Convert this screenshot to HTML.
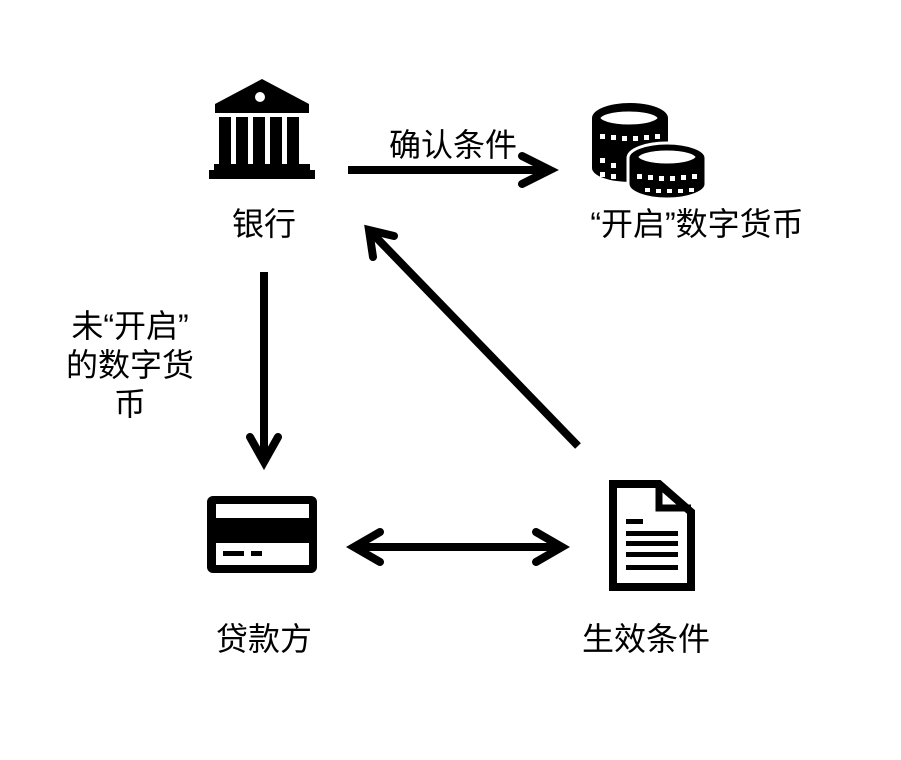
<!DOCTYPE html>
<html><head><meta charset="utf-8"><style>
html,body{margin:0;padding:0;background:#fff;width:901px;height:760px;overflow:hidden}
text{font-family:"Liberation Sans","Noto Sans CJK SC",sans-serif;font-size:32px;fill:#000}
</style></head><body>
<svg width="901" height="760" viewBox="0 0 901 760" xmlns="http://www.w3.org/2000/svg">
<!-- bank -->
<polygon points="215,104 262,79 309,104 309,113 215,113" fill="#000"/>
<circle cx="260" cy="97" r="5" fill="#fff"/>
<rect x="219" y="117" width="12" height="47" fill="#000"/>
<rect x="236" y="117" width="12" height="47" fill="#000"/>
<rect x="253" y="117" width="12" height="47" fill="#000"/>
<rect x="270" y="117" width="12" height="47" fill="#000"/>
<rect x="287" y="117" width="12" height="47" fill="#000"/>
<rect x="214" y="164" width="96" height="6" fill="#000"/>
<rect x="209" y="170" width="106" height="9" fill="#000"/>
<!-- coins back stack -->
<g fill="#000">
<ellipse cx="630" cy="168" rx="38" ry="14"/>
<rect x="592" y="118" width="76" height="50"/>
<ellipse cx="630" cy="118" rx="38" ry="15"/>
</g>
<ellipse cx="629" cy="118" rx="31" ry="9" fill="#fff" stroke="#000" stroke-width="5"/>
<g fill="#fff"><rect x="600" y="134" width="5" height="5"/><rect x="611" y="135" width="5" height="5"/><rect x="622" y="136" width="5" height="5"/><rect x="633" y="136" width="5" height="5"/><rect x="644" y="135" width="5" height="5"/><rect x="655" y="134" width="5" height="5"/>
<rect x="600" y="158" width="5" height="5"/><rect x="611" y="163" width="5" height="5"/><rect x="600" y="172" width="5" height="5"/><rect x="611" y="174" width="5" height="5"/></g>
<!-- front coin -->
<g fill="#000" stroke="#fff" stroke-width="3">
<path d="M628,158 A39,15 0 0 1 706,158 L706,184 A39,15 0 0 1 628,184 Z"/>
</g>
<ellipse cx="667" cy="157" rx="31" ry="9" fill="#fff" stroke="#000" stroke-width="5"/>
<g fill="#fff"><rect x="637" y="174" width="5" height="5"/><rect x="648" y="175" width="5" height="5"/><rect x="659" y="176" width="5" height="5"/><rect x="670" y="176" width="5" height="5"/><rect x="681" y="175" width="5" height="5"/><rect x="692" y="174" width="5" height="5"/>
<rect x="645" y="188" width="5" height="4"/><rect x="656" y="189" width="5" height="4"/><rect x="667" y="189" width="5" height="4"/><rect x="678" y="189" width="5" height="4"/><rect x="689" y="188" width="5" height="4"/></g>
<!-- arrows -->
<g stroke="#000" stroke-width="8" fill="none" stroke-linecap="round" stroke-linejoin="miter">
<line x1="348" y1="170" x2="550" y2="170" stroke-linecap="butt"/>
<polyline points="522,156 550,170 522,184"/>
<line x1="264" y1="272" x2="264" y2="462" stroke-linecap="butt"/>
<polyline points="250,437 264,462 278,437"/>
<line x1="578" y1="446" x2="369" y2="230" stroke-linecap="butt"/>
<polyline points="373,257 369,230 394,236"/>
<line x1="354" y1="547" x2="562" y2="547" stroke-linecap="butt"/>
<polyline points="380,532 354,547 380,562"/>
<polyline points="536,532 562,547 536,562"/>
</g>
<!-- card -->
<rect x="207" y="496" width="110" height="77" rx="6" fill="#000"/>
<rect x="216" y="504" width="93" height="14" fill="#fff"/>
<rect x="216" y="543" width="93" height="22" fill="#fff"/>
<rect x="223" y="551" width="21" height="5" fill="#000"/>
<rect x="251" y="551" width="11" height="5" fill="#000"/>
<!-- doc -->
<path d="M613,484 L659,484 L691,512 L691,587 L613,587 Z" fill="#fff" stroke="#000" stroke-width="8"/>
<path d="M659,484 L659,508 L691,508" fill="none" stroke="#000" stroke-width="7"/>
<g fill="#000"><rect x="626" y="519" width="17" height="5"/><rect x="626" y="531" width="52" height="5"/><rect x="626" y="541" width="52" height="5"/><rect x="626" y="552" width="52" height="5"/><rect x="626" y="565" width="52" height="5"/></g>
<!-- labels -->
<text x="264" y="235" text-anchor="middle">银行</text>
<text x="453" y="156" text-anchor="middle">确认条件</text>
<text x="697" y="235" text-anchor="middle">“开启”数字货币</text>
<text x="130" y="337" text-anchor="middle">未“开启”</text>
<text x="130" y="376" text-anchor="middle">的数字货</text>
<text x="130" y="415" text-anchor="middle">币</text>
<text x="264" y="650" text-anchor="middle">贷款方</text>
<text x="646" y="650" text-anchor="middle">生效条件</text>
</svg>
</body></html>
